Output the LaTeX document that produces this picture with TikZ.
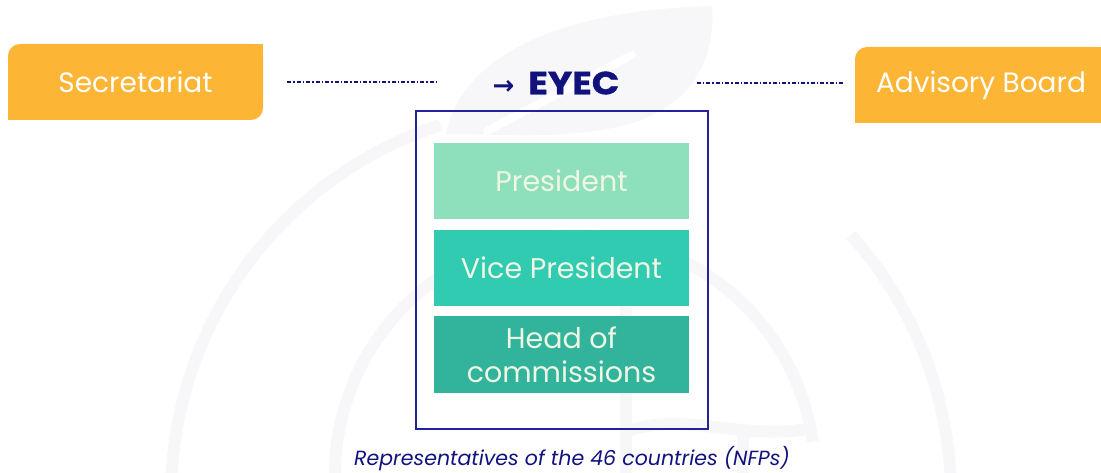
\documentclass[tikz,border=0pt]{standalone}
\usepackage{fontspec}
\setmainfont{Poppins}
\newfontfamily\arrowfont{DejaVu Sans}
\usetikzlibrary{backgrounds}
\definecolor{orangec}{HTML}{FCB534}
\definecolor{presc}{HTML}{8EE0BC}
\definecolor{vicec}{HTML}{31CBB2}
\definecolor{headc}{HTML}{32B39B}
\definecolor{navy}{HTML}{12127F}
\definecolor{boxnavy}{HTML}{22229A}
\definecolor{cream}{HTML}{EFF6E4}
\definecolor{wmgray}{HTML}{F7F7FA}
\tikzset{
  orangebox/.style={fill=orangec, rounded corners=12pt, text=white, font=\fontsize{28}{32}\selectfont, inner sep=0pt},
  greenbox/.style={minimum width=255pt, text=cream, font=\fontsize{28.5}{34}\selectfont, inner sep=0pt, align=center},
  dotline/.style={draw=navy, line width=1.6pt, dash pattern=on 4pt off 2pt on 1.5pt off 2pt},
  wm/.style={draw=wmgray, line width=12pt}
}
\begin{document}
\begin{tikzpicture}[x=1pt,y=-1pt]
\useasboundingbox (0,0) rectangle (1101,473);
% watermark
\draw[wm] (561,496) ++(-180:390) arc[start angle=-180, end angle=-108, radius=390];
\draw[wm] (561,496) ++(-42:390) arc[start angle=-42, end angle=2, radius=390];
\draw[wm] (575,475) ++(-180:240) arc[start angle=-180, end angle=-8, radius=240];
\draw[wm] (626,268) -- (626,480);
\draw[wm] (743,432) -- (743,480);
\draw[wm] (626,432) .. controls (680,410) and (745,442) .. (812,428);
\fill[wmgray] (446,134) .. controls (462,55) and (560,10) .. (712,6) .. controls (716,60) and (692,108) .. (622,126) .. controls (560,140) and (500,134) .. (446,134) -- cycle;
\draw[white, line width=8pt, line cap=round] (487,131) -- (632,55);
% boxes
\node[orangebox, minimum width=255pt, minimum height=76pt] (sec) at (135.5,82) {Secretariat};
\node[orangebox, minimum width=252pt, minimum height=76pt] (adv) at (981,85) {Advisory Board};
\begin{scope}[on background layer]
  \fill[orangec] (sec.north east) rectangle ++(-16,16);
  \fill[orangec] (sec.south west) rectangle ++(16,-16);
  \fill[orangec] (adv.south west) rectangle ++(16,-16);
  \fill[orangec] (adv.south east) rectangle ++(-16,-16);
  \fill[orangec] (adv.north east) rectangle ++(-16,16);
\end{scope}
\node[draw=boxnavy, line width=1.5pt, minimum width=292pt, minimum height=318pt, inner sep=0pt] (eyecbox) at (562,270) {};
\node[greenbox, fill=presc, minimum height=76pt] (pres) at (561.5,181) {President};
\node[greenbox, fill=vicec, minimum height=76pt] (vice) at (561.5,268) {Vice President};
\node[greenbox, fill=headc, minimum height=77pt] (head) at (561.5,354.5) {Head of\\commissions};
\node[inner sep=0pt, text=navy] (eyec) at (556,83) {{\arrowfont\bfseries\fontsize{26}{30}\selectfont →}\hspace{14pt}{\bfseries\fontsize{32}{36}\selectfont\addfontfeatures{FakeStretch=1.13,FakeBold=1.2}EYEC}};
\node[inner sep=0pt, text=navy, font=\itshape\fontsize{20.5}{24}\selectfont] (cap) at (572,459) {Representatives of the 46 countries (NFPs)};
% connectors
\draw[dotline, shorten <=24pt, shorten >=55pt] (sec.east) -- (sec.east -| eyec.west);
\draw[dotline, shorten <=77pt, shorten >=10pt] (eyec.east) -- (eyec.east -| adv.west);
\end{tikzpicture}
\end{document}
